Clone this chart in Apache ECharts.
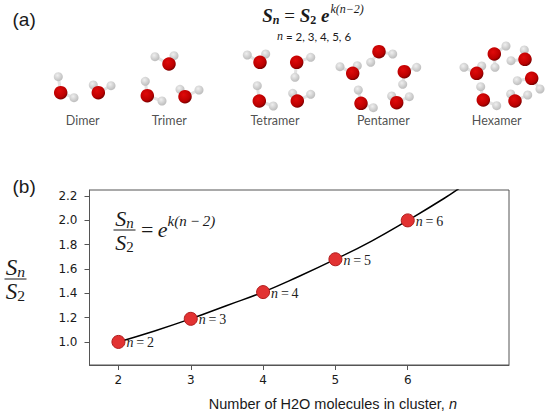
<!DOCTYPE html>
<html>
<head>
<meta charset="utf-8">
<style>
  html, body { margin: 0; padding: 0; background: #fff; }
  #main { width: 550px; height: 416px; }
</style>
<script src="https://cdn.jsdelivr.net/npm/echarts@6/dist/echarts.min.js"></script>
</head>
<body>
<div id="main"></div>
<script>
// (b) measured ratios S_n / S_2
var clusterN = [2, 3, 4, 5, 6];
var ratio = [1.00, 1.19, 1.41, 1.68, 2.00];
// (b) fitted curve
var curveN = [2, 2.5, 3, 3.5, 4, 4.5, 5, 5.5, 6, 6.5, 6.75];
var curveRatio = [1.00, 1.09, 1.19, 1.30, 1.41, 1.54, 1.68, 1.83, 2.00, 2.18, 2.28];
var xTicks = [2, 3, 4, 5, 6];
var yTicks = [1.0, 1.2, 1.4, 1.6, 1.8, 2.0, 2.2];

// (a) water clusters: each molecule is [Ox, Oy, H1x, H1y, H2x, H2y]
var clusterNames = ['Dimer', 'Trimer', 'Tetramer', 'Pentamer', 'Hexamer'];
var clusterNameX = [82.7, 169.3, 275, 383.3, 496.7];
var clusters = [
  [[60.7, 92.7, 58.3, 76.7, 74, 97.7], [98.3, 92.7, 93.3, 85, 111, 85.7]],
  [[169, 64, 155, 56.7, 174, 55.7], [147.3, 95.7, 145.3, 81.3, 162, 101], [185, 96.7, 180, 89.3, 199, 90]],
  [[260, 62.3, 247.3, 55, 265.7, 54], [296.7, 62.3, 310.7, 57.3, 295, 77.3],
   [259.3, 101, 257.3, 85.7, 273.3, 106], [297.3, 101, 292.7, 93.3, 310.7, 94.3]],
  [[379, 51.7, 370.7, 62.3, 392.7, 54], [352.7, 73.3, 340, 66.7, 357.3, 65.7],
   [404.3, 71.7, 416.7, 67.3, 402.7, 84.3], [361, 103.3, 358.3, 90, 373.3, 107.7],
   [396.7, 102.7, 391.7, 96, 409.3, 96.7]],
  [[494.3, 54, 506, 46, 495, 67.3], [525, 59.3, 524.3, 50, 511, 60.7],
   [476.7, 73.3, 464, 67.3, 481.7, 66], [531.7, 78.3, 517.3, 80.7, 540, 89],
   [483.3, 100, 480.7, 86.7, 496.7, 105.7], [515, 101, 510.7, 94, 527.7, 95]]
];

var serif = "'Liberation Serif', 'DejaVu Serif', serif";
var sans = "'Liberation Sans', Arial, sans-serif";
var ink = '#1a1a1a';
var frame = '#555';

var oxygen = [], hydrogen = [], bonds = [];
clusters.forEach(function(c) {
  c.forEach(function(m) {
    oxygen.push([m[0], m[1]]);
    hydrogen.push([m[2], m[3]], [m[4], m[5]]);
    bonds.push({ coords: [[m[0], m[1]], [m[2], m[3]]] });
    bonds.push({ coords: [[m[0], m[1]], [m[4], m[5]]] });
  });
});

function fracText(x, y, sub, size) {
  return [
    { type: 'text', x: x, y: y - 12, style: {
      text: '{s|S}{b|n}', align: 'center', verticalAlign: 'middle', fill: ink,
      rich: {
        s: { fontFamily: serif, fontStyle: 'italic', fontSize: size, fill: ink },
        b: { fontFamily: serif, fontStyle: 'italic', fontSize: size * 0.68, fill: ink, padding: [9, 0, 0, 0] }
      } } },
    { type: 'line', shape: { x1: x - 11, y1: y, x2: x + 11, y2: y }, style: { stroke: ink, lineWidth: 1 } },
    { type: 'text', x: x, y: y + 12, style: {
      text: '{s|S}{b|' + sub + '}', align: 'center', verticalAlign: 'middle', fill: ink,
      rich: {
        s: { fontFamily: serif, fontStyle: 'italic', fontSize: size, fill: ink },
        b: { fontFamily: serif, fontSize: size * 0.68, fill: ink, padding: [9, 0, 0, 0] }
      } } }
  ];
}

var chart = echarts.init(document.getElementById('main'), null, { renderer: 'svg' });

var graphics = [
  { type: 'text', x: 12.5, y: 19, style: { text: '(a)', font: '19px ' + sans, fill: ink, verticalAlign: 'middle' } },
  { type: 'text', x: 12.5, y: 186, style: { text: '(b)', font: '19px ' + sans, fill: ink, verticalAlign: 'middle' } },
  { type: 'text', x: 313, y: 15, style: {
    text: '{s|S}{bi|n}{o| = }{s|S}{b|2}{s| e}{p|k(n\u22122)}',
    align: 'center', verticalAlign: 'middle', fill: ink,
    rich: {
      s: { fontFamily: serif, fontStyle: 'italic', fontWeight: 'bold', fontSize: 19, fill: ink },
      o: { fontFamily: serif, fontSize: 19, fill: ink },
      bi: { fontFamily: serif, fontStyle: 'italic', fontWeight: 'bold', fontSize: 12, fill: ink, padding: [9, 0, 0, 0] },
      b: { fontFamily: serif, fontWeight: 'bold', fontSize: 12, fill: ink, padding: [9, 0, 0, 0] },
      p: { fontFamily: serif, fontStyle: 'italic', fontSize: 12, fill: ink, padding: [0, 0, 12, 1] }
    } } },
  { type: 'text', x: 314, y: 36, style: {
    text: '{i|n}{r| = 2, 3, 4, 5, 6}', align: 'center', verticalAlign: 'middle', fill: ink,
    rich: {
      i: { fontFamily: serif, fontStyle: 'italic', fontSize: 12, fill: ink },
      r: { fontFamily: 'Lato, sans-serif', fontSize: 11.5, fill: ink }
    } } },
  { type: 'text', x: 141, y: 229, style: {
    text: '{o|=}{s|\u2009e}{p|k(n\u2009\u2212\u20092)}', verticalAlign: 'middle', fill: ink,
    rich: {
      o: { fontFamily: serif, fontSize: 22, fill: ink },
      s: { fontFamily: serif, fontStyle: 'italic', fontSize: 22, fill: ink },
      p: { fontFamily: serif, fontStyle: 'italic', fontSize: 15, fill: ink, padding: [0, 0, 16, 0] }
    } } },
  { type: 'text', x: 457, y: 404, style: {
    text: '{r|Number of H2O molecules in cluster, }{i|n}', align: 'right', verticalAlign: 'middle', fill: ink,
    rich: {
      r: { fontFamily: sans, fontSize: 14.5, fill: ink },
      i: { fontFamily: sans, fontStyle: 'italic', fontSize: 14.5, fill: ink }
    } } }
].concat(fracText(124.5, 230, '2', 22), fracText(15.5, 279, '2', 23));

chart.setOption({
  animation: false,
  backgroundColor: '#fff',
  graphic: graphics,
  grid: [
    { left: 0, top: 0, width: 550, height: 140, show: false, outerBoundsMode: 'none' },
    { left: 89.5, top: 190, width: 419.5, height: 175, show: true, borderColor: frame, borderWidth: 1,
      backgroundColor: 'transparent', outerBoundsMode: 'none' }
  ],
  xAxis: [
    { gridIndex: 0, type: 'value', min: 0, max: 550, show: false },
    {
      gridIndex: 1, type: 'value', min: 1.6, max: 7.4,
      axisLine: { show: true, lineStyle: { color: frame, width: 1 } },
      axisTick: { show: true, customValues: xTicks, length: 5, lineStyle: { color: frame } },
      axisLabel: { customValues: xTicks, margin: 9, color: ink, fontSize: 12, fontFamily: 'DejaVu Sans',
        formatter: function(v) { return String(v); } },
      splitLine: { show: false }
    }
  ],
  yAxis: [
    { gridIndex: 0, type: 'value', min: 0, max: 140, inverse: true, show: false },
    {
      gridIndex: 1, type: 'value', min: 0.81, max: 2.25,
      axisLine: { show: true, lineStyle: { color: frame, width: 1 } },
      axisTick: { show: true, customValues: yTicks, length: 5, lineStyle: { color: frame } },
      axisLabel: { customValues: yTicks, margin: 12, color: ink, fontSize: 12, fontFamily: 'DejaVu Sans',
        formatter: function(v) { return v.toFixed(1); } },
      splitLine: { show: false }
    }
  ],
  series: [
    {
      type: 'lines', coordinateSystem: 'cartesian2d', xAxisIndex: 0, yAxisIndex: 0,
      data: bonds, silent: true,
      lineStyle: { color: '#e2e2e2', width: 3, opacity: 1 }
    },
    {
      type: 'scatter', xAxisIndex: 0, yAxisIndex: 0, data: hydrogen, symbolSize: 9, silent: true,
      itemStyle: {
        opacity: 1,
        color: { type: 'radial', x: 0.4, y: 0.35, r: 0.65,
          colorStops: [{ offset: 0, color: '#efefef' }, { offset: 1, color: '#bdbdbd' }] }
      }
    },
    {
      type: 'scatter', xAxisIndex: 0, yAxisIndex: 0, data: oxygen, symbolSize: 13.5, silent: true,
      itemStyle: {
        opacity: 1,
        color: { type: 'radial', x: 0.4, y: 0.35, r: 0.65,
          colorStops: [{ offset: 0, color: '#e00a0a' }, { offset: 0.75, color: '#bb0000' }, { offset: 1, color: '#7a0000' }] }
      }
    },
    {
      type: 'scatter', xAxisIndex: 0, yAxisIndex: 0, symbolSize: 0, silent: true,
      data: clusterNames.map(function(n, i) { return { name: n, value: [clusterNameX[i], 120] }; }),
      label: { show: true, position: 'inside', formatter: '{b}', color: '#222', fontSize: 12.5, fontFamily: 'Lato, sans-serif' }
    },
    {
      type: 'line', xAxisIndex: 1, yAxisIndex: 1, smooth: true, showSymbol: false, silent: true,
      data: curveN.map(function(n, i) { return [n, curveRatio[i]]; }),
      lineStyle: { color: '#000', width: 1.5 }
    },
    {
      type: 'scatter', xAxisIndex: 1, yAxisIndex: 1, symbolSize: 13, z: 5,
      data: clusterN.map(function(n, i) { return [n, ratio[i]]; }),
      itemStyle: { opacity: 1, color: '#e23232', borderColor: '#b01c1c', borderWidth: 1 },
      label: {
        show: true, position: 'right', distance: 1, offset: [0, 1],
        formatter: function(p) { return '{i|n}{r|\u2009=\u2009' + p.value[0] + '}'; },
        rich: {
          i: { fontFamily: serif, fontStyle: 'italic', fontSize: 14, color: '#222' },
          r: { fontFamily: serif, fontSize: 14, color: '#222' }
        }
      }
    }
  ]
});
window.addEventListener('resize', function() { chart.resize(); });
</script>
</body>
</html>
